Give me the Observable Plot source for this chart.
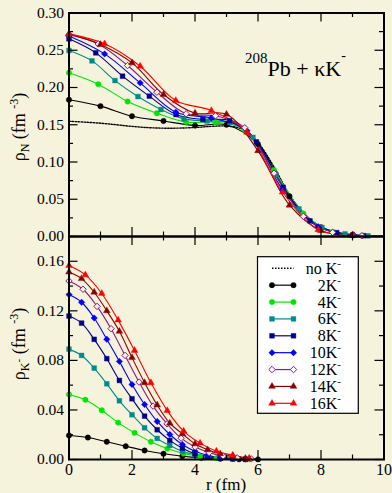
<!DOCTYPE html>
<html><head><meta charset="utf-8">
<script src="https://cdn.jsdelivr.net/npm/d3@7"></script>
<script src="https://cdn.jsdelivr.net/npm/@observablehq/plot@0.6"></script>
<style>
body{margin:0;background:#f5f3dc;}
#wrap{position:relative;width:392px;height:493px;overflow:hidden;background:#f5f3dc;}
#wrap svg{position:absolute;left:0;overflow:visible;}
</style></head><body><div id="wrap"></div>
<script>
// ---------- data ----------
const xMajor = [0, 2, 4, 6, 8, 10];
const xMinor = [1, 3, 5, 7, 9];
const topYMajor = [0, 0.05, 0.10, 0.15, 0.20, 0.25, 0.30];
const topYMinor = [0.025, 0.075, 0.125, 0.175, 0.225, 0.275];
const botYMajor = [0, 0.04, 0.08, 0.12, 0.16];
const botYMinor = [0.02, 0.06, 0.10, 0.14];

const seriesLabels = ["2K", "4K", "6K", "8K", "10K", "12K", "14K", "16K"];

// top panel: nucleon density rho_N
const topNoK_r = [0,0.5,1,1.5,2,2.5,3,3.5,4,4.5,5,5.5,6,6.5,7,7.5,8,8.5,9,9.5,10];
const topNoK_v = [0.1547,0.1535,0.1521,0.1500,0.1478,0.1462,0.1454,0.1455,0.1463,0.1478,0.1482,0.1440,0.1260,0.0940,0.0560,0.0285,0.0130,0.0055,0.0022,0.0009,0.0003];
const top2K_r = [0,1,2,3,4,5,6,7,8,9];
const top2K_v = [0.1835,0.1750,0.1615,0.1551,0.1490,0.1500,0.1240,0.0540,0.0125,0.0023];
const top4K_r = [0,0.93,1.86,2.79,3.72,4.65,5.58,6.51,7.44,8.37,9.3];
const top4K_v = [0.2199,0.2045,0.1812,0.1655,0.1535,0.1535,0.1430,0.0890,0.0310,0.0065,0.0012];
const top6K_r = [0,0.73,1.46,2.19,2.92,3.65,4.38,5.11,5.84,6.57,7.3,8.03,8.76,9.49];
const top6K_v = [0.2496,0.2357,0.2093,0.1878,0.1704,0.1579,0.1550,0.1530,0.1330,0.0830,0.0370,0.0120,0.0035,0.0009];
const top8K_r = [0,0.85,1.7,2.55,3.4,4.25,5.1,5.95,6.8,7.65,8.5,9.35];
const top8K_v = [0.2653,0.2465,0.2152,0.1884,0.1637,0.1570,0.1555,0.1270,0.0660,0.0210,0.0052,0.0011];
const top10K_r = [0,1.13,2.26,3.39,4.52,5.65,6.78,7.91,9.04];
const top10K_v = [0.2690,0.2451,0.2062,0.1669,0.1590,0.1420,0.0630,0.0130,0.0020];
const top12K_r = [0,0.93,1.86,2.79,3.72,4.65,5.58,6.51,7.44,8.37,9.3];
const top12K_v = [0.2707,0.2585,0.2295,0.1937,0.1647,0.1620,0.1460,0.0850,0.0270,0.0055,0.0010];
const top14K_r = [0,1,2,3,4,5,6,7,8,9];
const top14K_v = [0.2720,0.2577,0.2330,0.1906,0.1655,0.1640,0.1150,0.0420,0.0080,0.0013];
const top16K_r = [0,1.13,2.26,3.39,4.52,5.65,6.78,7.91,9.04];
const top16K_v = [0.2720,0.2586,0.2286,0.1825,0.1690,0.1400,0.0595,0.0090,0.0013];

// bottom panel: antikaon density rho_K-
const bot2K_r = [0,0.6,1.2,1.8,2.4,3.0,3.6,4.2,4.8,5.4,6.0];
const bot2K_v = [0.0194,0.0177,0.0143,0.0107,0.0073,0.0046,0.0026,0.0013,0.0006,0.0002,0.0001];
const bot4K_r = [0,0.52,1.04,1.56,2.08,2.6,3.12,3.64,4.16,4.68,5.2,5.72];
const bot4K_v = [0.0525,0.0482,0.0398,0.0298,0.0215,0.0143,0.0088,0.0048,0.0024,0.0011,0.0005,0.0002];
const bot6K_r = [0,0.4,0.8,1.2,1.6,2.0,2.4,2.8,3.2,3.6,4.0,4.4,4.8,5.2,5.6];
const bot6K_v = [0.0891,0.0840,0.0738,0.0611,0.0474,0.0361,0.0256,0.0170,0.0113,0.0067,0.0038,0.0021,0.0011,0.0005,0.0002];
const bot8K_r = [0,0.4,0.8,1.2,1.6,2.0,2.4,2.8,3.2,3.6,4.0,4.4,4.8,5.2,5.6];
const bot8K_v = [0.1158,0.1101,0.0970,0.0814,0.0638,0.0490,0.0350,0.0240,0.0154,0.0091,0.0046,0.0025,0.0012,0.0006,0.0002];
const bot10K_r = [0,0.4,0.8,1.2,1.6,2.0,2.4,2.8,3.2,3.6,4.0,4.4,4.8,5.2,5.6];
const bot10K_v = [0.1331,0.1269,0.1142,0.0970,0.0792,0.0606,0.0444,0.0307,0.0202,0.0121,0.0067,0.0035,0.0017,0.0008,0.0003];
const bot12K_r = [0,0.445,0.89,1.335,1.78,2.225,2.67,3.115,3.56,4.005,4.45,4.895,5.34,5.785];
const bot12K_v = [0.1441,0.1374,0.1236,0.1056,0.0840,0.0625,0.0431,0.0288,0.0172,0.0100,0.0055,0.0028,0.0013,0.0005];
const bot14K_r = [0,0.4,0.8,1.2,1.6,2.0,2.4,2.8,3.2,3.6,4.0,4.4,4.8,5.2,5.6];
const bot14K_v = [0.1513,0.1460,0.1350,0.1200,0.1035,0.0822,0.0620,0.0440,0.0293,0.0208,0.0127,0.0078,0.0046,0.0024,0.0008];
const bot16K_r = [0,0.52,1.04,1.56,2.08,2.6,3.12,3.64,4.16,4.68,5.2,5.72];
const bot16K_v = [0.1565,0.1490,0.1340,0.1125,0.0880,0.0620,0.0395,0.0229,0.0132,0.0067,0.0035,0.0010];

// ---------- styles ----------
const FONT = '"Liberation Serif","Times New Roman",serif';
const colors = ["#000000","#00e600","#008b8b","#00008b","#0000ff","#8b1a8b","#8b0000","#ff0000"];
const symbols = ["circle","circle","square","square","diamond2","diamond2","triangle","triangle"];
const filled = [true,true,true,true,true,false,true,true];
const sizes = [2.7,2.7,2.7,2.7,2.9,2.9,2.5,2.5];

const topR = [top2K_r,top4K_r,top6K_r,top8K_r,top10K_r,top12K_r,top14K_r,top16K_r];
const topV = [top2K_v,top4K_v,top6K_v,top8K_v,top10K_v,top12K_v,top14K_v,top16K_v];
const botR = [bot2K_r,bot4K_r,bot6K_r,bot8K_r,bot10K_r,bot12K_r,bot14K_r,bot16K_r];
const botV = [bot2K_v,bot4K_v,bot6K_v,bot8K_v,bot10K_v,bot12K_v,bot14K_v,bot16K_v];

const toRows = (rs, vs) => rs.map((r, i) => ({r, v: vs[i]}));

const W = 392, ML = 68.5, MR = 8.5;
const pxPerR = (W - ML - MR) / 10;
const LMAJ = 9, LMIN = 4.5;

function axisFrameMarks(yDom, H, MT, MB, yMaj, yMin) {
  const pxPerY = (H - MT - MB) / (yDom[1] - yDom[0]);
  const ax = (p) => p / pxPerR, ay = (p) => p / pxPerY;
  const k = {stroke: "black", strokeWidth: 1.2};
  return [
    Plot.ruleY(yMaj, {x1: 0, x2: ax(LMAJ), ...k}),
    Plot.ruleY(yMin, {x1: 0, x2: ax(LMIN), ...k}),
    Plot.ruleY(yMaj, {x1: 10 - ax(LMAJ), x2: 10, ...k}),
    Plot.ruleY(yMin, {x1: 10 - ax(LMIN), x2: 10, ...k}),
    Plot.ruleX(xMajor, {y1: yDom[0], y2: yDom[0] + ay(LMAJ), ...k}),
    Plot.ruleX(xMinor, {y1: yDom[0], y2: yDom[0] + ay(LMIN), ...k}),
    Plot.ruleX(xMajor, {y1: yDom[1] - ay(LMAJ), y2: yDom[1], ...k}),
    Plot.ruleX(xMinor, {y1: yDom[1] - ay(LMIN), y2: yDom[1], ...k}),
    Plot.text(yMaj, {x: 0, y: d => d, text: d => d3.format(".2f")(d), textAnchor: "end", dx: -5, fontSize: 15.5}),
    Plot.frame({stroke: "black", strokeWidth: 2})
  ];
}

function seriesMarks(Rs, Vs) {
  const marks = [];
  Rs.forEach((rs, i) => {
    const rows = toRows(rs, Vs[i]);
    marks.push(Plot.line(rows, {x: "r", y: "v", stroke: colors[i], strokeWidth: 1.1, curve: "catmull-rom"}));
  });
  Rs.forEach((rs, i) => {
    const rows = toRows(rs, Vs[i]);
    marks.push(Plot.dot(rows, {x: "r", y: "v", symbol: symbols[i], r: sizes[i],
      fill: filled[i] ? colors[i] : "#f5f3dc", stroke: colors[i], strokeWidth: filled[i] ? 0.4 : 1}));
  });
  return marks;
}

const styleObj = {background: "none", fontFamily: FONT, fontSize: "15.5px", color: "black", overflow: "visible"};

// ---------- top panel ----------
const TH = 240, TMT = 12.5, TMB = 4;
const topDom = [0, 0.30];
const topPlot = Plot.plot({
  width: W, height: TH, marginLeft: ML, marginRight: MR, marginTop: TMT, marginBottom: TMB,
  style: styleObj,
  x: {domain: [0, 10], axis: null},
  y: {domain: topDom, axis: null},
  marks: [
    Plot.line(toRows(topNoK_r, topNoK_v), {x: "r", y: "v", stroke: "black", strokeWidth: 1.4, strokeDasharray: "1.5,1.5", curve: "catmull-rom"}),
    ...seriesMarks(topR, topV),
    ...axisFrameMarks(topDom, TH, TMT, TMB, topYMajor, topYMinor)
  ]
});
topPlot.style.top = "0px";

// ---------- bottom panel ----------
const BH = 257, BMT = 0, BMB = 34;
const botDom = [0, 0.18];
const botPlot = Plot.plot({
  width: W, height: BH, marginLeft: ML, marginRight: MR, marginTop: BMT, marginBottom: BMB,
  style: styleObj,
  x: {domain: [0, 10], axis: null},
  y: {domain: botDom, axis: null},
  marks: [
    ...seriesMarks(botR, botV),
    ...axisFrameMarks(botDom, BH, BMT, BMB, botYMajor, botYMinor),
    Plot.text(xMajor, {x: d => d, y: 0, text: d => String(d), lineAnchor: "top", dy: 4, fontSize: 16})
  ]
});
botPlot.style.top = "236px";

const wrap = document.getElementById("wrap");
wrap.appendChild(topPlot);
wrap.appendChild(botPlot);

// ---------- text helpers ----------
function addText(svg, x, y, parts, {size = 16, anchor = "middle", rotate = 0} = {}) {
  const t = d3.select(svg).append("text")
    .attr("transform", `translate(${x},${y}) rotate(${rotate})`)
    .attr("text-anchor", anchor)
    .attr("font-family", FONT)
    .attr("font-size", size)
    .attr("fill", "black");
  for (const p of parts) {
    const s = t.append("tspan").text(p.t);
    if (p.dy) s.attr("dy", p.dy);
    if (p.size) s.attr("font-size", p.size);
  }
  return t;
}

// y labels
addText(topPlot, 25, 127, [{t: "ρ"}, {t: "N", dy: 4, size: 12}, {t: " (fm ", dy: -4}, {t: "-3", dy: -7, size: 12}, {t: ")", dy: 7}], {size: 18, rotate: -90});
addText(botPlot, 25, 344 - 236, [{t: "ρ"}, {t: "K", dy: 4, size: 12}, {t: "-", dy: -7, size: 11}, {t: " (fm ", dy: 3}, {t: "-3", dy: -7, size: 12}, {t: ")", dy: 7}], {size: 18, rotate: -90});
// x label
addText(botPlot, 226, 490 - 236, [{t: "r (fm)"}], {size: 17});
// annotation
addText(topPlot, 245, 76, [{t: "208", dy: -13, size: 15}, {t: "Pb + κK", dy: 13}, {t: "-", dy: -16, size: 14}], {size: 22, anchor: "start"});

// ---------- legend ----------
const lg = d3.select(botPlot).append("g");
const LX0 = 257.5, LY0 = 256.7 - 236, LW = 100.8, LH = 156.6;
lg.append("rect").attr("x", LX0).attr("y", LY0).attr("width", LW).attr("height", LH)
  .attr("fill", "white").attr("stroke", "black").attr("stroke-width", 1.2);
const symMap = {circle: d3.symbolCircle, square: d3.symbolSquare, diamond2: d3.symbolDiamond2, triangle: d3.symbolTriangle};
const legendLabels = ["no K", ...seriesLabels];
legendLabels.forEach((lab, i) => {
  const y = 268.3 - 236 + i * 16.875;
  const x1 = 272, x2 = 293.5;
  if (i === 0) {
    lg.append("line").attr("x1", x1).attr("x2", x2).attr("y1", y).attr("y2", y)
      .attr("stroke", "black").attr("stroke-width", 1.4).attr("stroke-dasharray", "1.5,1.5");
  } else {
    const j = i - 1;
    lg.append("line").attr("x1", x1).attr("x2", x2).attr("y1", y).attr("y2", y)
      .attr("stroke", colors[j]).attr("stroke-width", 1.2);
    for (const xx of [x1, x2]) {
      lg.append("path").attr("d", d3.symbol(symMap[symbols[j]], Math.PI * sizes[j] * sizes[j])())
        .attr("transform", `translate(${xx},${y})`)
        .attr("fill", filled[j] ? colors[j] : "white").attr("stroke", colors[j])
        .attr("stroke-width", filled[j] ? 0.4 : 1);
    }
  }
  addText(botPlot, 341, y + 5.5, [{t: lab}, {t: "-", dy: -7, size: 11}], {size: 16, anchor: "end"});
});
</script></body></html>
